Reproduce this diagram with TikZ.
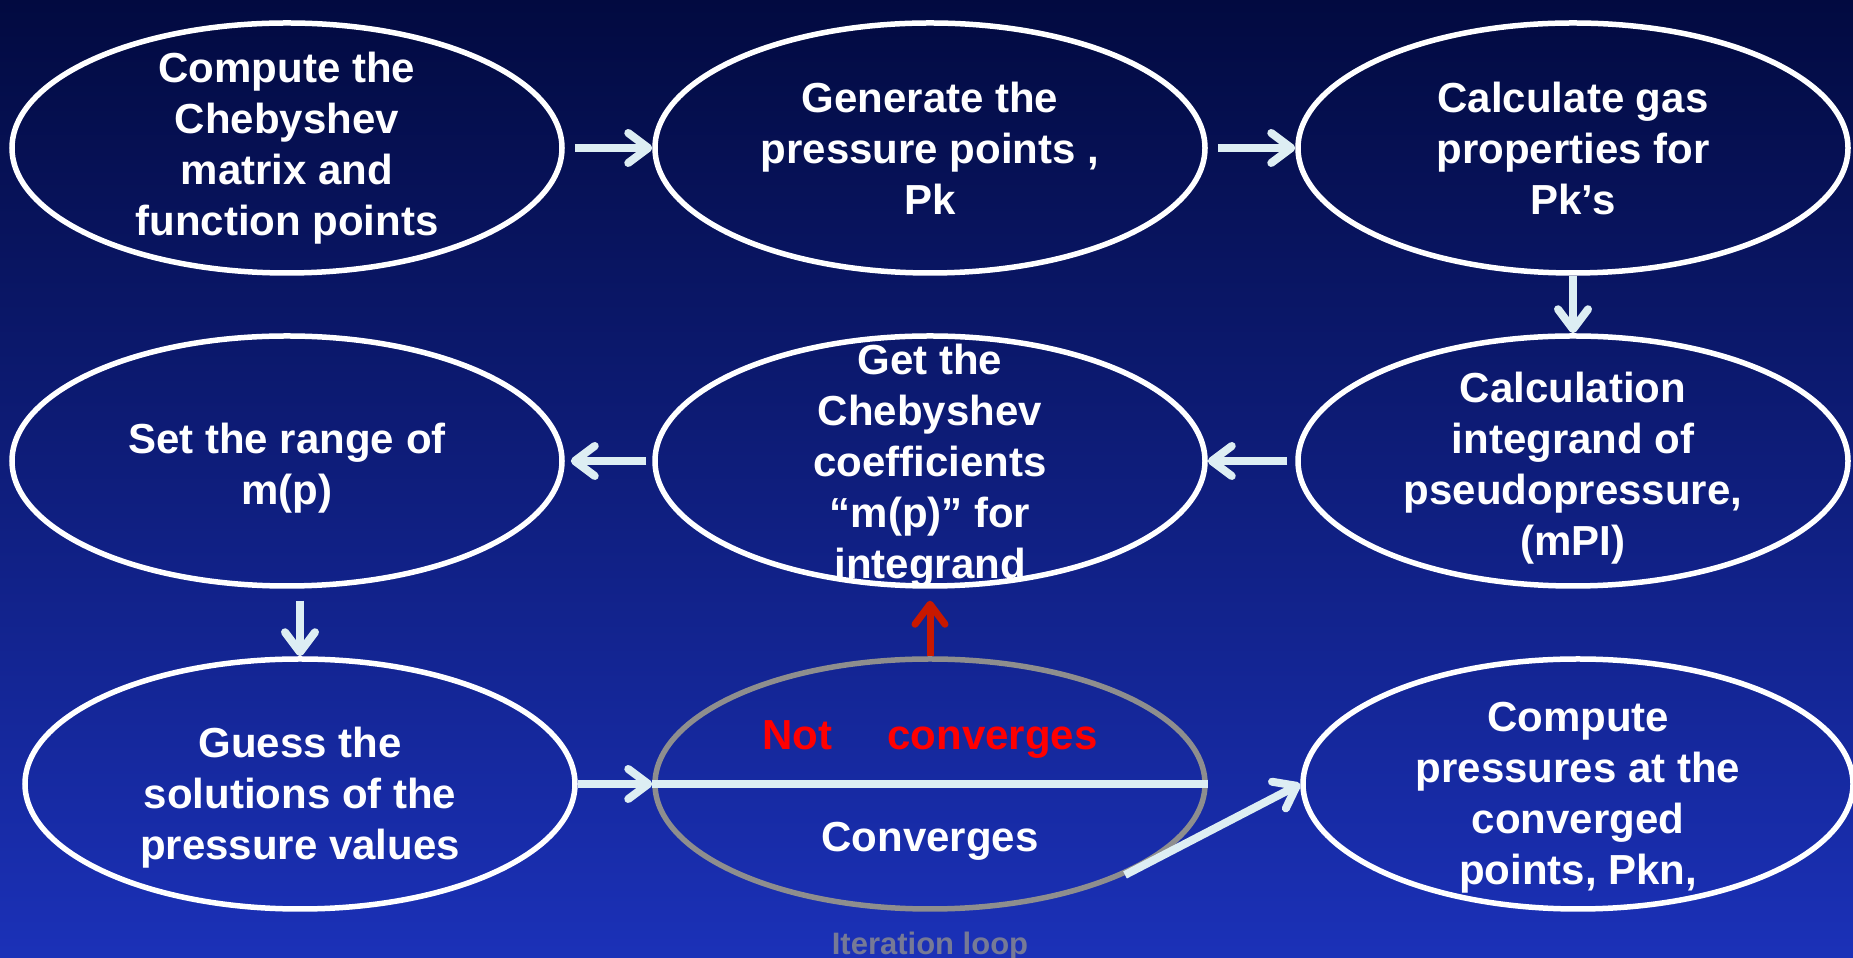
\documentclass[tikz,border=0pt]{standalone}
\usepackage{fontspec}
\setmainfont{Liberation Sans}
\usetikzlibrary{arrows.meta,shapes.geometric,positioning}
\definecolor{bgtop}{RGB}{2,10,64}
\definecolor{bgmid}{RGB}{11,27,126}
\definecolor{bgbot}{RGB}{27,49,184}
\definecolor{arrowcol}{RGB}{221,238,243}
\definecolor{loopgray}{RGB}{142,142,142}
\definecolor{darkred}{RGB}{200,24,0}
\definecolor{looptext}{RGB}{118,122,150}

\begin{document}
\begin{tikzpicture}[x=1pt, y=1pt, >={Straight Barb[length=20pt,width=30pt,line cap=round,line join=round]}, node distance=643pt]
\tikzstyle{blob}=[ellipse, draw=white, line width=5.5pt, minimum width=550pt, minimum height=250pt, inner sep=0pt]
\tikzstyle{txt}=[text=white, align=center, font=\fontsize{42}{51}\selectfont\bfseries, inner sep=0pt]
\tikzstyle{flow}=[->, draw=arrowcol, line width=8pt]
\useasboundingbox (0,0) rectangle (1853,958);
\shade[top color=bgtop, middle color=bgmid, bottom color=bgbot] (0,0) rectangle (1853,958);
\node[blob, label={[txt]center:Compute the\\Chebyshev\\matrix and\\function points}] (comp) at (287,810) {};
\node[blob, label={[txt]center:Generate the\\pressure points ,\\Pk}] (gen) [right of=comp] {};
\node[blob, label={[txt]center:Calculate gas\\properties for\\Pk’s}] (gas) [right of=gen] {};
\node[blob, label={[txt, yshift=-7pt]center:Calculation\\integrand of\\pseudopressure,\\(mPI)}] (integ) [below of=gas, node distance=313pt] {};
\node[blob, label={[txt, yshift=-5pt]center:Get the\\Chebyshev\\coefficients\\“m(p)” for\\integrand}] (coef) [left of=integ] {};
\node[blob, label={[txt, yshift=-7pt]center:Set the range of\\m(p)}] (range) [left of=coef] {};
\node[blob, draw=loopgray, label={[txt, text=red, yshift=44pt]center:Not\hspace{55pt}converges}, label={[txt, yshift=-57pt]center:Converges}] (loop) [below of=coef, node distance=323pt] {};
\node[blob, label={[txt, yshift=-14pt]center:Guess the\\solutions of the\\pressure values}] (guess) [left of=loop, node distance=630pt] {};
\node[blob, label={[txt, yshift=-14pt]center:Compute\\pressures at the\\converged\\points, Pkn,}] (conv) [right of=loop, node distance=648pt] {};
\node[text=looptext, font=\fontsize{31}{36}\selectfont\bfseries, inner sep=0pt, below=20pt of loop] (iter) {Iteration loop};
\draw[draw=arrowcol, line width=8pt] (loop.west) -- (loop.east);
\path
(comp) edge[flow, shorten <=10pt] (gen)
(gen) edge[flow, shorten <=10pt] (gas)
(gas) edge[flow] (integ)
(integ) edge[flow, shorten <=8pt] (coef)
(coef) edge[flow, shorten <=6pt, shorten >=6pt] (range)
(range.south -| guess) edge[flow, shorten <=12pt] (guess)
(guess) edge[flow] (loop)
(loop) edge[->, draw=darkred, line width=7pt, shorten >=12pt] (coef)
(loop.-25) edge[flow] (conv.west);
\end{tikzpicture}
\end{document}
